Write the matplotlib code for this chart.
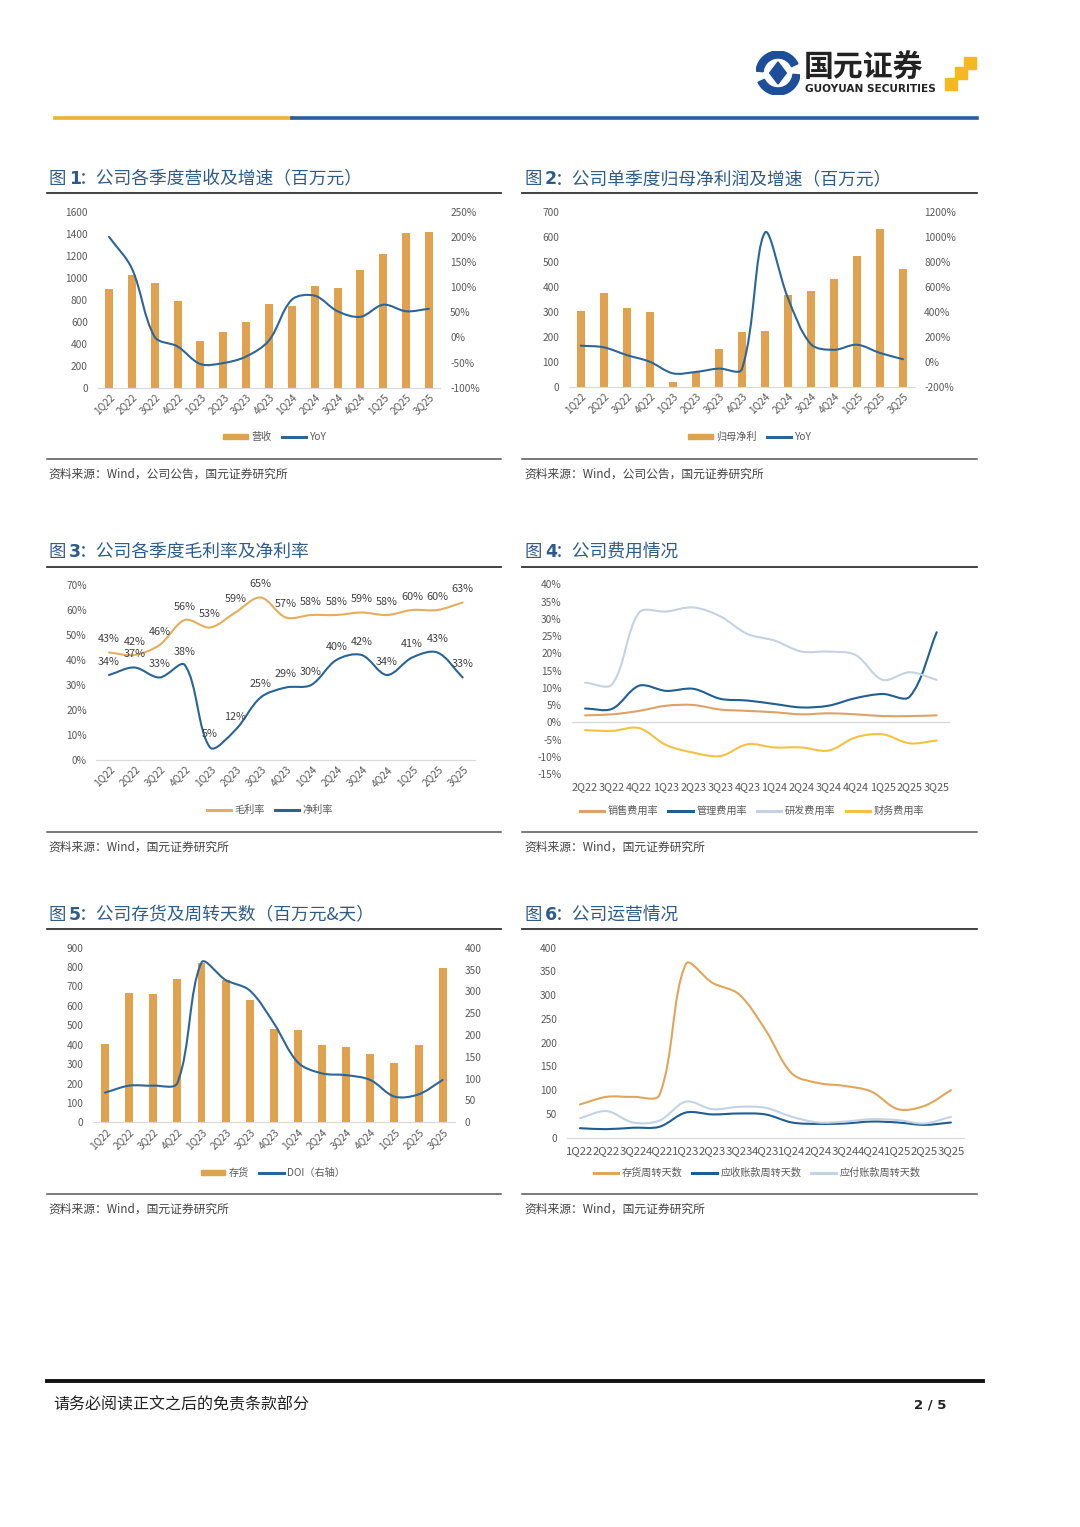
import numpy as np
import matplotlib
matplotlib.use('Agg')
import matplotlib.pyplot as plt
from matplotlib.path import Path
from matplotlib.patches import PathPatch, Patch, Rectangle, Wedge, Polygon
from matplotlib.lines import Line2D

plt.rcParams['font.family'] = ['Noto Sans CJK SC', 'DejaVu Sans']

# ---- data ----
quarters = ['1Q22', '2Q22', '3Q22', '4Q22', '1Q23', '2Q23', '3Q23', '4Q23',
            '1Q24', '2Q24', '3Q24', '4Q24', '1Q25', '2Q25', '3Q25']

revenue = [897, 1024, 955, 788, 421, 506, 594, 758, 739, 927, 903, 1067, 1218, 1406, 1418]
revenue_yoy = [200, 137, 1, -18, -53, -51, -38, -6, 75, 83, 52, 41, 65, 52, 57]

net_profit = [304, 373, 315, 299, 20, 58, 151, 217, 221, 367, 383, 432, 521, 631, 471]
net_profit_yoy = [128, 115, 53, 0, -93, -82, -55, -60, 1032, 510, 140, 95, 136, 70, 20]

gross_margin = [43, 42, 46, 56, 53, 59, 65, 57, 58, 58, 59, 58, 60, 60, 63]
net_margin = [34, 37, 33, 38, 5, 12, 25, 29, 30, 40, 42, 34, 41, 43, 33]

# fig 4 starts at 2Q22
fee_quarters = quarters[1:]
sales_fee = [2.0, 2.3, 3.3, 4.8, 5.0, 3.7, 3.3, 2.9, 2.3, 2.6, 2.3, 1.8, 1.8, 2.0]
admin_fee = [4.0, 3.9, 10.6, 9.1, 9.7, 6.8, 6.3, 5.3, 4.3, 4.8, 7.0, 8.2, 7.4, 26.1]
rd_fee = [11.5, 11.0, 31.8, 32.1, 33.3, 30.7, 25.6, 23.7, 20.5, 20.5, 19.5, 12.3, 14.5, 12.3]
fin_fee = [-2.3, -2.5, -1.7, -6.6, -8.8, -9.8, -6.4, -7.3, -7.3, -8.2, -4.4, -3.5, -6.1, -5.3]

inventory = [404, 668, 661, 737, 819, 735, 630, 479, 474, 398, 390, 350, 306, 400, 794]
doi = [68, 84, 84, 90, 366, 326, 302, 227, 137, 112, 108, 97, 59, 64, 97]

inv_days = [70, 86, 86, 90, 366, 326, 302, 227, 135, 115, 109, 97, 60, 67, 100]
ar_days = [20, 18, 21, 23, 53, 49, 51, 49, 32, 29, 30, 34, 32, 27, 32]
ap_days = [41, 56, 32, 36, 76, 60, 65, 63, 44, 32, 34, 39, 37, 30, 44]

# ---- colours ----
GOLD = '#E0A24E'
BLUE = '#2C6698'
TITLE_BLUE = '#2E5C8A'
GREY = '#595959'

W, H = 1080, 1527
fig = plt.figure(figsize=(W / 100, H / 100), dpi=100)


def px_axes(x0, y0, x1, y1):
    return fig.add_axes([x0 / W, 1 - y1 / H, (x1 - x0) / W, (y1 - y0) / H])


def hline(x0, x1, y, color, lw):
    fig.add_artist(Line2D([x0 / W, x1 / W], [1 - y / H, 1 - y / H],
                          transform=fig.transFigure, color=color, lw=lw))


def ftext(x, y, s, **kw):
    fig.text(x / W, 1 - y / H, s, **kw)


def smooth_line(ax, ys, color, lw=1.5):
    # excel-like smoothed line: bezier through the points, control points
    # worked out in screen space (limits must already be set)
    xs = np.arange(len(ys), dtype=float)
    pts = ax.transData.transform(np.column_stack([xs, np.asarray(ys, float)]))
    n = len(pts)
    f = 1 / 3
    outc, inc = [], []
    for i in range(n):
        prev = pts[max(i - 1, 0)]
        nxt = pts[min(i + 1, n - 1)]
        t = nxt - prev
        d0 = np.hypot(*(pts[i] - prev))
        d1 = np.hypot(*(nxt - pts[i]))
        tot = d0 + d1 if d0 + d1 > 0 else 1.0
        outc.append(pts[i] + t * f * d1 / tot)
        inc.append(pts[i] - t * f * d0 / tot)
    verts = [pts[0]]
    codes = [Path.MOVETO]
    for i in range(n - 1):
        verts += [outc[i], inc[i + 1], pts[i + 1]]
        codes += [Path.CURVE4] * 3
    verts = ax.transData.inverted().transform(np.array(verts))
    ax.add_patch(PathPatch(Path(verts, codes), facecolor='none', edgecolor=color,
                           lw=lw, capstyle='round', joinstyle='round'))
    return Line2D([], [], color=color, lw=2.2)


def style(ax, labels, rotate=True, xpad=3, xsize=7.3):
    for s in ['top', 'right', 'left']:
        ax.spines[s].set_visible(False)
    ax.spines['bottom'].set_color('#D9D9D9')
    ax.tick_params(length=0, labelsize=7.3, labelcolor=GREY)
    ax.tick_params(axis='y', pad=7)
    ax.set_xticks(range(len(labels)))
    if rotate:
        ax.set_xticklabels(labels, rotation=45, ha='right', va='top', rotation_mode='anchor')
    else:
        ax.set_xticklabels(labels)
    ax.tick_params(axis='x', pad=xpad, labelsize=xsize)
    ax.set_xlim(-0.5, len(labels) - 0.5)


def style_right(ax2):
    for s in ['top', 'right', 'left', 'bottom']:
        ax2.spines[s].set_visible(False)
    ax2.tick_params(length=0, labelsize=7.3, labelcolor=GREY, pad=7)


def pct(vals):
    return ['%d%%' % v for v in vals]


def legend(ax, handles, labels, cx, cy):
    ax.legend(handles, labels, loc='center', bbox_to_anchor=(cx / W, 1 - cy / H),
              bbox_transform=fig.transFigure, ncol=len(labels), frameon=False,
              fontsize=7.3, labelcolor=GREY, handlelength=2.4, handleheight=0.5,
              handletextpad=0.35, columnspacing=1.0)


# ---- page header ----
lax = px_axes(756, 51, 800, 95)
lax.set_xlim(-1, 1)
lax.set_ylim(-1, 1)
lax.axis('off')
lax.add_patch(Wedge((0, 0), 1.0, 25, 175, width=0.32, color='#1D4E9B'))
lax.add_patch(Wedge((0, 0), 1.0, 205, 355, width=0.32, color='#1D4E9B'))
lax.add_patch(Polygon([(0, 0.5), (0.38, 0), (0, -0.5), (-0.38, 0)], color='#1D4E9B'))
ftext(804, 68, '国元证券', fontsize=21.5, fontweight='bold', color='#222222', va='center')
ftext(805, 89, 'GUOYUAN SECURITIES', fontsize=7.6, fontweight='bold', color='#222222',
      va='center', family=['DejaVu Sans'])
for (sx, sy) in [(945, 78), (955, 67), (964, 57)]:
    fig.add_artist(Rectangle((sx / W, 1 - (sy + 12) / H), 12 / W, 12 / H,
                             transform=fig.transFigure, color='#F5B820'))
hline(55, 292, 118, '#EDB230', 2.6)
hline(292, 977, 118, '#2A5C9E', 2.6)

# ---- panel frames ----
titles = ['公司各季度营收及增速（百万元）', '公司单季度归母净利润及增速（百万元）',
          '公司各季度毛利率及净利率', '公司费用情况',
          '公司存货及周转天数（百万元&天）', '公司运营情况']
sources = ['资料来源：Wind，公司公告，国元证券研究所', '资料来源：Wind，公司公告，国元证券研究所',
           '资料来源：Wind，国元证券研究所', '资料来源：Wind，国元证券研究所',
           '资料来源：Wind，国元证券研究所', '资料来源：Wind，国元证券研究所']
rows = [(179, 193, 459, 474), (552, 567, 832, 847), (915, 929, 1194, 1209)]
cols = [(48, 47, 501), (524, 522, 977)]
k = 0
for (ty, uy, by, sy) in rows:
    for (tx, lx0, lx1) in cols:
        ftext(tx, ty, '图', fontsize=12.5, color=TITLE_BLUE, va='center')
        ftext(tx + 21, ty, str(k + 1), fontsize=12.5, fontweight='bold', color=TITLE_BLUE,
              va='center', family=['DejaVu Sans'])
        ftext(tx + 31, ty, '：' + titles[k], fontsize=12.8, color=TITLE_BLUE, va='center')
        hline(lx0, lx1, uy, '#333333', 1.3)
        hline(lx0, lx1, by, '#555555', 1.1)
        ftext(tx, sy, sources[k], fontsize=8.5, color='#444444', va='center')
        k += 1

x = np.arange(len(quarters))

# ---- fig 1 ----
ax = px_axes(97.6, 211.7, 440.4, 387.7)
ax.bar(x, revenue, width=0.35, color=GOLD)
style(ax, quarters)
ax.set_ylim(0, 1600)
ax.set_yticks(range(0, 1601, 200))
ax2 = ax.twinx()
ax2.set_ylim(-100, 250)
ax2.set_xlim(-0.5, 14.5)
ax2.set_yticks(range(-100, 251, 50))
ax2.set_yticklabels(pct(range(-100, 251, 50)))
h = smooth_line(ax2, revenue_yoy, BLUE)
style_right(ax2)
legend(ax2, [Patch(color=GOLD), h], ['营收', 'YoY'], 275, 437)

# ---- fig 2 ----
ax = px_axes(569.2, 211.7, 914.5, 386.7)
ax.bar(x, net_profit, width=0.35, color=GOLD)
style(ax, quarters)
ax.set_ylim(0, 700)
ax.set_yticks(range(0, 701, 100))
ax2 = ax.twinx()
ax2.set_ylim(-200, 1200)
ax2.set_xlim(-0.5, 14.5)
ax2.set_yticks(range(-200, 1201, 200))
ax2.set_yticklabels(pct(range(-200, 1201, 200)))
h = smooth_line(ax2, net_profit_yoy, BLUE)
style_right(ax2)
legend(ax2, [Patch(color=GOLD), h], ['归母净利', 'YoY'], 750, 437)

# ---- fig 3 ----
ax = px_axes(96.4, 585, 475.3, 760)
style(ax, quarters)
ax.set_ylim(0, 70)
ax.set_yticks(range(0, 71, 10))
ax.set_yticklabels(pct(range(0, 71, 10)))
h1 = smooth_line(ax, gross_margin, '#E6AE5C')
h2 = smooth_line(ax, net_margin, '#2A6496')
for i in range(len(quarters)):
    ax.annotate('%d%%' % gross_margin[i], (i, gross_margin[i]), xytext=(0, 13),
                textcoords='offset pixels', ha='center', va='center', fontsize=7.8, color='#404040')
    ax.annotate('%d%%' % net_margin[i], (i, net_margin[i]), xytext=(0, 13),
                textcoords='offset pixels', ha='center', va='center', fontsize=7.8, color='#404040')
legend(ax, [h1, h2], ['毛利率', '净利率'], 270, 810)

# ---- fig 4 ----
ax = px_axes(571.5, 584.3, 950.2, 774)
style(ax, fee_quarters, rotate=False, xpad=6, xsize=7.8)
ax.spines['bottom'].set_visible(False)
ax.axhline(0, color='#D9D9D9', lw=1)
ax.set_ylim(-15, 40)
ax.set_yticks(range(-15, 41, 5))
ax.set_yticklabels(pct(range(-15, 41, 5)))
hs = [smooth_line(ax, sales_fee, '#DCA266'),
      smooth_line(ax, admin_fee, '#215F91'),
      smooth_line(ax, rd_fee, '#C4D2E4'),
      smooth_line(ax, fin_fee, '#F4C243')]
legend(ax, hs, ['销售费用率', '管理费用率', '研发费用率', '财务费用率'], 752, 811)

# ---- fig 5 ----
ax = px_axes(93, 947.7, 454.7, 1122.3)
ax.bar(x, inventory, width=0.33, color=GOLD)
style(ax, quarters)
ax.set_ylim(0, 900)
ax.set_yticks(range(0, 901, 100))
ax2 = ax.twinx()
ax2.set_ylim(0, 400)
ax2.set_xlim(-0.5, 14.5)
ax2.set_yticks(range(0, 401, 50))
h = smooth_line(ax2, doi, BLUE)
style_right(ax2)
legend(ax2, [Patch(color=GOLD), h], ['存货', 'DOI（右轴）'], 273, 1173)

# ---- fig 6 ----
ax = px_axes(566.7, 947.7, 964.2, 1137.7)
style(ax, quarters, rotate=False, xpad=6, xsize=8.2)
ax.set_ylim(0, 400)
ax.set_yticks(range(0, 401, 50))
hs = [smooth_line(ax, inv_days, '#E0A65A'),
      smooth_line(ax, ar_days, '#1F5D94'),
      smooth_line(ax, ap_days, '#C3D3E6')]
legend(ax, hs, ['存货周转天数', '应收账款周转天数', '应付账款周转天数'], 757, 1173)

# ---- footer ----
hline(47, 983, 1381, '#111111', 2.8)
ftext(53, 1405, '请务必阅读正文之后的免责条款部分', fontsize=11.5, color='#222222', va='center')
ftext(914, 1405, '2 / 5', fontsize=9.5, fontweight='bold', color='#222222', va='center',
      family=['DejaVu Sans'])

fig.savefig('out.png', dpi=100, facecolor='white')
plt.close(fig)
